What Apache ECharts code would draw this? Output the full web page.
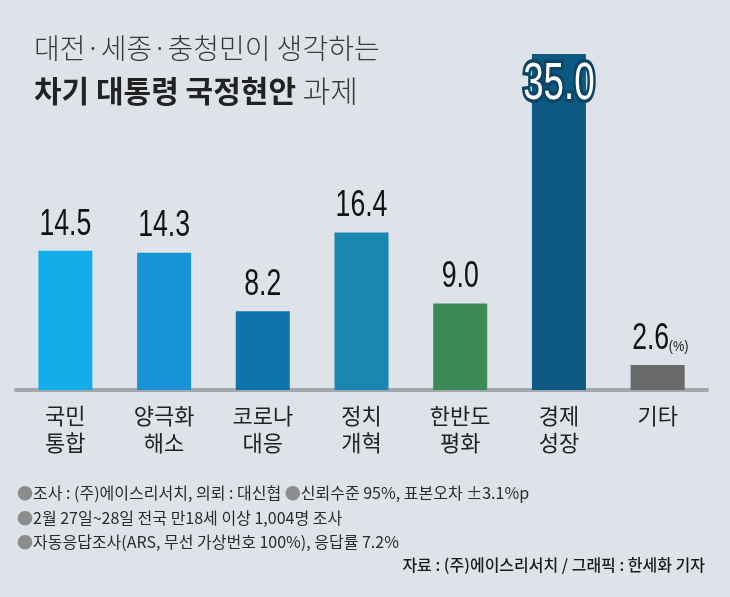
<!DOCTYPE html>
<html><head><meta charset="utf-8">
<script src="https://cdn.jsdelivr.net/npm/echarts@6/dist/echarts.min.js"></script>
<style>html,body{margin:0;padding:0;background:#dee3ea}#c{width:730px;height:597px}</style>
</head><body><div id="c"></div>
<script>
const titleLine1 = '대전·세종·충청민이 생각하는';
const titleBold = '차기 대통령 국정현안';
const titleRest = ' 과제';
const categories = ['국민\n통합', '양극화\n해소', '코로나\n대응', '정치\n개혁', '한반도\n평화', '경제\n성장', '기타'];
const values = [14.5, 14.3, 8.2, 16.4, 9.0, 35.0, 2.6];
const unitLabel = '(%)';
const barColors = ['#13aeea', '#1893d5', '#0f72aa', '#1a87b3', '#3c8a57', '#0c5a82', '#6a6a6a'];
const notes = [
  '조사 : (주)에이스리서치, 의뢰 : 대신협 ',
  '2월 27일~28일 전국 만18세 이상 1,004명 조사',
  '자동응답조사(ARS, 무선 가상번호 100%), 응답률 7.2%'
];
const note1b = '신뢰수준 95%, 표본오차 ±3.1%p';
const source = '자료 : (주)에이스리서치 / 그래픽 : 한세화 기자';

const NUM = '"Liberation Sans", Arial, sans-serif';
const KR = '"Noto Sans CJK KR", "Noto Sans", sans-serif';
const maxIdx = values.indexOf(Math.max(...values));

const chart = echarts.init(document.getElementById('c'), null, {renderer: 'canvas'});
chart.setOption({
  backgroundColor: '#dee3ea',
  animation: false,
  grid: {left: 16, right: 23, top: 6, bottom: 207},
  xAxis: {type: 'category', data: categories,
    axisLine: {lineStyle: {color: '#a3a7ab', width: 4}},
    axisTick: {show: false},
    axisLabel: {fontSize: 22, color: '#222', fontFamily: KR, lineHeight: 27, margin: 12, interval: 0}},
  yAxis: {type: 'value', min: 0, max: 40, show: false},
  series: [{type: 'bar', barWidth: 54, label: {show: false},
    data: values.map((v, i) => ({value: v, itemStyle: {color: barColors[i]}}))}]
});

const g = [];
g.push({type: 'text', left: 34, top: 34, style: {text: titleLine1, fontSize: 28, fontWeight: 300, fontFamily: KR, fill: '#3a3a3a'}});
g.push({type: 'text', left: 34, top: 76, style: {text: '{b|' + titleBold + '}{r|' + titleRest + '}',
  rich: {b: {fontSize: 30, fontWeight: 'bold', fontFamily: KR, fill: '#222'}, r: {fontSize: 30, fontWeight: 300, fontFamily: KR, fill: '#3a3a3a'}}}});

values.forEach((v, i) => {
  const p = chart.convertToPixel({seriesIndex: 0}, [i, v]);
  const txt = v.toFixed(1);
  if (i === maxIdx) {
    g.push({type: 'text', x: p[0], y: p[1] + 31, scaleX: 0.72, z: 10,
      style: {text: txt, fontSize: 51, fontFamily: NUM, fill: '#fff', stroke: '#0a4565', lineWidth: 7,
        align: 'center', verticalAlign: 'middle'}});
  } else if (i === values.length - 1) {
    g.push({type: 'text', x: p[0] - 7, y: p[1] - 8, scaleX: 0.72, z: 10,
      style: {text: txt, fontSize: 37, fontFamily: NUM, fill: '#111', align: 'center', verticalAlign: 'bottom'}});
    g.push({type: 'text', x: p[0] + 11, y: p[1] - 11, scaleX: 0.85, z: 10,
      style: {text: unitLabel, fontSize: 15, fontFamily: NUM, fill: '#222', align: 'left', verticalAlign: 'bottom'}});
  } else {
    g.push({type: 'text', x: p[0], y: p[1] - 8, scaleX: 0.72, z: 10,
      style: {text: txt, fontSize: 37, fontFamily: NUM, fill: '#111', align: 'center', verticalAlign: 'bottom'}});
  }
});

const noteY = [495, 520, 544];
notes.forEach((t, i) => {
  g.push({type: 'text', left: 17, top: noteY[i] - 10, style: {
    text: '{b|●}{t|' + t + '}' + (i === 0 ? '{b|●}{t|' + note1b + '}' : ''),
    rich: {b: {fill: '#8c8c8c', fontSize: 16, fontFamily: KR}, t: {fill: '#2a2a2a', fontSize: 16, fontFamily: KR}}
  }});
});
g.push({type: 'text', right: 25, top: 557, style: {text: source, fontSize: 16, fontFamily: KR, fill: '#1a1a1a', fontWeight: 500}});

chart.setOption({graphic: g});
</script></body></html>
